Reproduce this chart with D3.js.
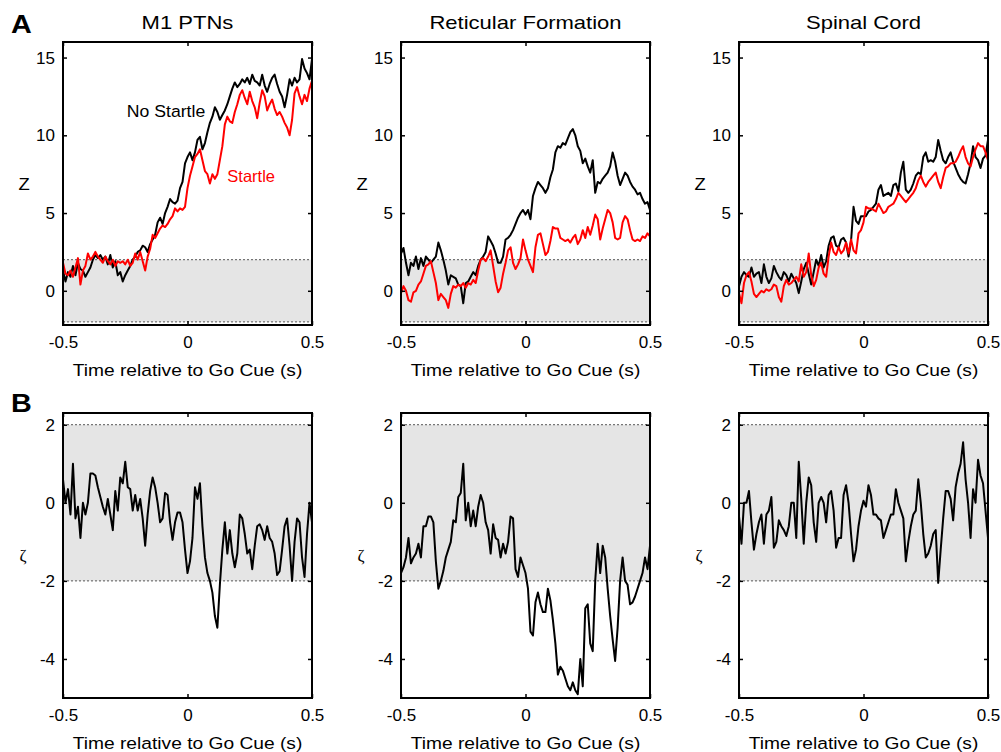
<!DOCTYPE html>
<html>
<head>
<meta charset="utf-8">
<script src="https://cdn.jsdelivr.net/npm/d3@7"></script>
<style>
  body { margin: 0; background: #fff; }
  svg { font-family: "Liberation Sans", Arial, sans-serif; }
</style>
</head>
<body>
<svg id="chart"></svg>
<script>
// panel titles and ticks
const regions = ['M1 PTNs', 'Reticular Formation', 'Spinal Cord'];
const xTicks = [-0.5, 0, 0.5];
const zTicks = [0, 5, 10, 15];
const zetaTicks = [-4, -2, 0, 2];

// z-scores, 10 ms bins from -0.5 s to 0.5 s (101 bins)
const m1NoStartle = [1.3,0.6,1.2,0.9,1.6,1.0,1.8,1.4,1.3,0.9, 1.2,1.5,2.0,2.3,2.1,2.3,2.0,2.2,1.7,2.3,
  1.5,1.9,1.0,1.2,0.6,1.0,1.3,1.6,2.0,2.2, 2.5,2.6,2.9,2.8,2.5,3.0,3.3,3.6,4.4,4.7,
  4.3,5.0,5.4,5.9,5.7,5.6,5.8,6.6,7.0,8.2, 8.6,
  8.9,8.4,8.9,9.7,9.9,9.1,9.5,10.2,10.8,11.2, 11.8,11.5,11.0,11.3,11.6,12.0,12.5,13.0,13.4,13.1,
  13.3,13.6,13.4,13.7,13.3,13.9,13.5,13.4,13.2,13.9, 13.2,12.8,13.3,13.7,13.9,13.3,12.8,12.5,11.8,12.6,
  13.6,13.2,13.7,13.4,13.6,14.9,14.3,14.0,13.6,14.9];
const m1Startle = [1.8,1.1,1.0,1.3,0.9,1.5,2.1,0.4,1.3,1.6, 2.4,2.0,2.2,2.5,2.2,2.0,1.8,2.2,1.9,1.7,
  2.0,1.6,1.9,1.8,1.9,1.7,2.0,1.6,1.8,2.4, 2.0,2.5,1.9,1.3,2.2,2.7,3.6,3.4,3.7,4.0,
  4.2,4.1,4.3,4.6,4.8,5.3,5.1,5.3,5.2,5.4, 6.6,
  7.4,8.0,8.6,8.8,9.1,8.4,7.7,7.5,6.9,7.5, 7.2,7.5,8.4,9.3,10.7,11.2,10.9,10.8,11.5,12.0,
  12.6,12.9,12.4,12.0,12.8,12.2,11.8,11.1,12.1,12.9, 12.5,11.6,12.0,12.3,11.7,11.3,11.5,11.2,10.8,10.5,
  10.0,11.0,12.7,13.1,12.5,12.0,12.6,12.2,13.0,13.5];
const rfNoStartle = [2.4,2.75,1.8,1.0,1.8,1.6,2.2,1.4,2.1,1.6, 2.2,2.0,1.8,2.0,2.2,3.1,2.6,2.0,1.3,0.4,
  1.0,0.9,0.8,0.4,0.3,-0.8,0.5,0.6,0.9,1.2, 1.0,1.6,2.0,2.2,2.5,3.5,3.2,2.9,2.4,1.8,
  1.8,2.2,3.3,3.4,3.6,3.9,4.3,4.7,5.0,5.2, 4.9,
  5.2,4.6,6.1,6.6,7.0,6.8,6.6,6.3,6.6,7.3, 7.8,8.9,9.3,9.2,9.5,9.4,9.8,10.2,10.4,10.0,
  9.3,9.0,8.2,8.5,8.0,7.6,8.4,6.3,7.0,6.9, 7.2,7.4,7.6,8.0,8.9,8.3,7.4,6.8,7.2,7.6,
  7.4,7.0,6.7,6.5,6.2,6.3,5.9,5.6,5.7,5.2];
const rfStartle = [-0.15,0.3,0.0,-0.6,-0.7,-0.1,0.0,0.4,0.6,1.1, 1.6,1.7,1.9,1.2,0.5,-0.6,-0.2,-0.4,-0.6,-1.1,
  -0.2,0.3,0.2,0.4,0.3,0.5,0.2,0.5,0.4,0.7, 0.5,1.3,2.0,2.1,1.9,2.2,2.6,1.6,0.6,-0.1,
  0.2,1.1,1.8,2.6,2.8,1.8,1.4,1.7,2.1,3.3, 2.6,
  2.0,1.6,1.2,2.8,3.6,3.7,3.0,2.3,2.5,3.2, 4.1,4.0,4.0,3.4,3.3,3.2,3.3,3.1,3.4,3.6,
  3.0,3.3,3.9,3.4,4.1,3.6,4.2,4.9,4.6,3.3, 4.0,4.6,5.2,5.0,4.4,3.4,3.3,3.4,4.4,4.8,
  4.6,3.9,3.3,3.2,3.3,3.2,3.5,3.4,3.7,3.5];
const scNoStartle = [0.3,0.9,1.2,1.0,0.9,1.5,0.9,1.1,1.2,0.5, 1.7,0.9,0.5,0.8,1.6,1.2,0.9,0.7,1.2,1.0,
  0.6,1.1,0.8,0.5,-0.15,0.6,1.4,1.8,1.1,0.4, 1.2,2.0,1.6,2.3,1.5,1.9,2.9,3.4,3.5,2.9,
  2.8,3.3,3.4,3.1,2.2,3.2,5.4,4.5,4.3,4.8, 4.8,
  4.8,5.1,5.2,5.4,5.6,6.5,6.8,6.1,6.2,6.3, 6.1,6.8,6.9,6.4,7.6,8.3,6.5,6.3,6.5,6.9,
  7.4,7.6,7.5,8.6,8.9,8.3,8.4,8.3,8.6,9.7, 9.0,8.4,8.2,8.6,8.9,8.3,7.9,7.5,7.2,7.0,
  6.9,7.5,8.2,9.3,8.6,8.4,7.9,8.5,8.7,9.7];
const scStartle = [-0.15,-0.8,0.5,1.0,1.2,0.6,-0.2,-0.4,-0.2,0.0, -0.1,0.1,0.0,0.1,0.4,0.3,-0.4,-0.7,0.3,0.7,
  0.4,0.5,0.7,0.9,0.6,1.7,0.9,1.2,2.4,1.0, 0.3,0.7,1.5,1.8,1.1,0.9,2.2,3.1,2.5,2.3,
  2.8,2.4,2.6,3.1,2.4,3.3,2.6,2.4,3.7,3.9, 4.4,
  5.4,5.3,5.3,5.2,5.1,5.6,5.3,5.0,5.1,5.4, 5.5,5.6,5.9,6.3,6.1,5.9,5.7,5.9,6.1,6.3,
  6.6,7.1,7.4,7.0,6.7,7.0,7.2,7.4,7.6,7.0, 6.6,7.3,7.9,8.0,8.2,8.2,8.3,8.6,9.0,9.3,
  8.6,8.2,8.0,8.6,9.1,9.5,9.3,9.3,8.9,8.4];

// difference statistic (zeta), same bins
const m1Zeta = [0.6,0.0,0.35,-0.3,1.0,-0.4,-0.1,-0.9,0.0,-0.3, 0.0,0.75,0.75,0.7,0.4,0.15,-0.1,-0.3,0.1,-0.3,
  -0.7,0.3,-0.2,0.65,0.5,1.05,0.4,0.35,-0.2,0.2, -0.2,0.1,-0.4,-1.1,-0.3,0.3,0.65,0.4,0.0,-0.5,
  -0.4,0.25,0.2,-0.5,-0.95,-0.5,-0.25,-0.25,-0.5,-1.2, -1.8,
  -1.5,-0.9,0.4,0.1,0.5,-0.6,-1.4,-1.8,-2.0,-2.3, -2.9,-3.2,-2.1,-1.2,-0.5,-1.3,-0.7,-1.3,-1.65,-1.3,
  -0.3,-0.4,-0.8,-1.3,-1.2,-1.7,-1.1,-0.6,-0.55,-0.7, -0.95,-0.6,-0.9,-1.0,-1.3,-1.85,-1.75,-1.2,-0.6,-0.4,
  -1.1,-2.0,-1.0,-0.4,-0.5,-1.4,-1.9,-0.8,0.0,-0.5];
const rfZeta = [-1.8,-1.65,-1.4,-0.9,-1.55,-1.4,-1.3,-1.05,-1.4,-0.6, -0.6,-0.35,-0.35,-0.5,-1.5,-2.2,-2.0,-1.75,-1.4,-1.2,
  -1.0,-0.45,-0.5,0.15,0.25,1.0,-0.45,0.0,-0.6,-0.2, -0.6,-0.1,0.2,0.0,-0.5,-0.7,-1.3,-0.55,-0.9,-0.95,
  -1.4,-1.05,-1.3,-1.0,-0.35,-0.4,-1.7,-1.9,-1.4,-1.6, -1.8,
  -2.2,-3.3,-3.4,-2.55,-2.3,-2.6,-2.8,-2.8,-2.2,-2.5, -3.0,-3.6,-4.4,-4.2,-4.3,-4.5,-4.7,-4.8,-4.6,-4.8,
  -4.9,-4.0,-4.7,-2.7,-2.6,-3.6,-3.8,-2.0,-1.05,-1.8, -1.1,-1.4,-2.2,-2.9,-3.5,-4.05,-3.2,-2.0,-1.4,-2.0,
  -2.1,-2.6,-2.55,-2.4,-2.2,-2.0,-1.8,-1.4,-1.7,-1.1];
const scZeta = [-0.35,-1.05,0.0,0.0,0.3,-0.5,-1.2,-0.8,-0.5,-0.3, -1.05,-0.3,-0.2,0.15,-1.15,-1.0,-0.45,-0.6,-0.7,-0.85,
  -0.6,0.0,0.0,-0.9,1.05,0.1,-1.05,0.0,0.65,0.45, -0.5,-1.0,0.0,0.15,0.0,-0.5,0.2,0.3,-0.2,-1.15,
  -0.9,-0.9,0.2,0.45,0.0,-0.8,-1.5,-1.2,-0.6,-0.2, 0.05,
  -0.1,0.45,0.2,-0.3,-0.3,-0.4,-0.45,-0.9,-0.7,-0.5, -0.3,-0.3,0.35,0.0,-0.2,-0.4,-1.5,-1.0,-0.6,-0.3,
  -0.2,0.6,0.0,-0.8,-1.4,-1.3,-1.1,-0.8,-0.7,-2.05, -1.2,-0.4,0.3,0.3,0.1,-0.45,0.4,0.75,1.0,1.55,
  0.6,0.0,-0.9,0.35,0.0,1.1,0.7,0.5,-0.2,-0.9];

const time = d3.range(m1NoStartle.length).map(i => -0.5 + i * 0.01);

const svg = d3.select('#chart').attr('width', 1001).attr('height', 752);

const colLeft = [63, 401, 739];
const panelW = 249;

const rows = [
  { top: 42, bottom: 325, domain: [-2.2, 16], ticks: zTicks, ylabel: 'Z', letter: 'A', letterY: 33,
    series: [[m1NoStartle, m1Startle], [rfNoStartle, rfStartle], [scNoStartle, scStartle]],
    colors: ['#000', '#ff0000'] },
  { top: 413, bottom: 698, domain: [-5, 2.3], ticks: zetaTicks, ylabel: 'ζ', letter: 'B', letterY: 412,
    series: [[m1Zeta], [rfZeta], [scZeta]],
    colors: ['#000'] }
];

// text with a slight horizontal stretch, like the original figure
function label(g, txt, x, y, size, sx, anchor) {
  return g.append('text')
    .attr('transform', `translate(${x},${y}) scale(${sx},1)`)
    .attr('text-anchor', anchor || 'middle')
    .attr('font-size', size)
    .attr('fill', '#000')
    .text(txt);
}

rows.forEach((row, r) => {
  label(svg, row.letter, 11, row.letterY, 25, 1.15, 'start').attr('font-weight', 'bold');

  colLeft.forEach((left, c) => {
    const h = row.bottom - row.top;
    const x = d3.scaleLinear().domain([-0.5, 0.5]).range([0, panelW]);
    const y = d3.scaleLinear().domain(row.domain).range([h, 0]);
    const g = svg.append('g').attr('transform', `translate(${left},${row.top})`);

    // grey band between the +/-2 thresholds
    g.append('rect')
      .attr('x', 0).attr('width', panelW)
      .attr('y', y(2)).attr('height', y(-2) - y(2))
      .attr('fill', '#e5e5e5');
    g.selectAll('line.thr')
      .data([-2, 2])
      .enter()
      .append('line')
      .attr('x1', 0).attr('x2', panelW)
      .attr('y1', d => y(d)).attr('y2', d => y(d))
      .attr('stroke', '#555')
      .attr('stroke-width', 1)
      .attr('stroke-dasharray', '2,2');

    const line = d3.line().x((d, i) => x(time[i])).y(d => y(d));
    row.series[c].forEach((vals, k) => {
      g.append('path').datum(vals)
        .attr('fill', 'none')
        .attr('stroke', row.colors[k])
        .attr('stroke-width', 2)
        .attr('stroke-linejoin', 'round')
        .attr('d', line);
    });

    const fmt = d => String(d);
    const styleAxis = a => {
      a.select('.domain').remove();
      a.attr('font-size', 17).attr('font-family', null);
      a.selectAll('line').attr('stroke', '#000').attr('stroke-width', 1.5);
      a.selectAll('text').attr('fill', '#000');
    };
    g.append('g').call(d3.axisLeft(y).tickValues(row.ticks).tickSize(-4).tickSizeOuter(0).tickPadding(8).tickFormat(fmt)).call(styleAxis);
    g.append('g').attr('transform', `translate(${panelW},0)`)
      .call(d3.axisRight(y).tickValues(row.ticks).tickSize(-4).tickSizeOuter(0).tickFormat('')).call(styleAxis);
    g.append('g').call(d3.axisTop(x).tickValues(xTicks).tickSize(-4).tickSizeOuter(0).tickFormat('')).call(styleAxis);
    g.append('g').attr('transform', `translate(0,${h})`)
      .call(d3.axisBottom(x).tickValues(xTicks).tickSize(-4).tickSizeOuter(0).tickPadding(11).tickFormat(fmt)).call(styleAxis);

    g.append('rect')
      .attr('width', panelW).attr('height', h)
      .attr('fill', 'none')
      .attr('stroke', '#000')
      .attr('stroke-width', 2);

    label(g, 'Time relative to Go Cue (s)', panelW / 2, h + 51, 17, 1.13);
    if (r === 0) {
      label(svg, 'Z', left - 39, row.top + h / 2 + 6, 16, 1.15);
      label(g, regions[c], panelW / 2, -13, 19, 1.16);
    } else {
      label(svg, 'ζ', left - 40, row.top + h / 2 + 5, 17, 1).attr('font-family', '"Liberation Serif", serif');
    }
    if (r === 0 && c === 0) {
      label(g, 'No Startle', x(-0.244), y(11.2), 16.5, 1.07, 'start');
      label(g, 'Startle', x(0.16), y(7.0), 16.5, 1.0, 'start').attr('fill', '#ff0000');
    }
  });
});
</script>
</body>
</html>
